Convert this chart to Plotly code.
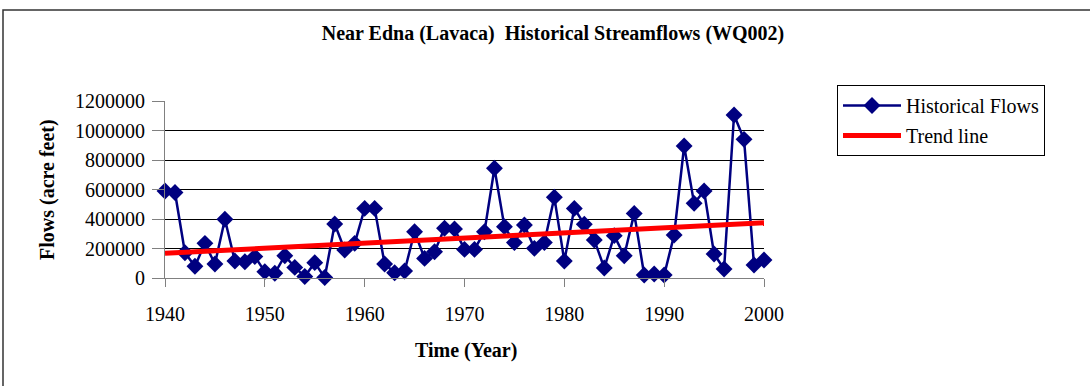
import plotly.graph_objects as go

years = list(range(1940, 2001))
flows = [590000, 580000, 171000, 80000, 235000, 95000, 398000, 115000, 110000, 145000,
         43000, 32000, 151000, 72000, 10000, 104000, 3000, 366000, 190000, 235000,
         472000, 472000, 95000, 36000, 47000, 314000, 133000, 178000, 337000, 333000,
         194000, 194000, 314000, 744000, 348000, 240000, 359000, 201000, 240000, 547000,
         115000, 472000, 364000, 258000, 68000, 287000, 151000, 438000, 20000, 27000,
         20000, 292000, 895000, 506000, 590000, 163000, 61000, 1105000, 940000, 88000,
         122000]
trend_years = [1940, 2000]
trend_values = [167000, 375000]
y_ticks = [0, 200000, 400000, 600000, 800000, 1000000, 1200000]
x_ticks = [1940, 1950, 1960, 1970, 1980, 1990, 2000]

FONT = "Liberation Serif, Times New Roman, serif"

fig = go.Figure()
fig.add_trace(go.Scatter(
    x=years, y=flows, mode="lines+markers", name="Historical Flows",
    legendgroup="a",
    line=dict(color="#000080", width=2.5),
    marker=dict(symbol="diamond", size=13, color="#000080"),
    cliponaxis=False,
))
fig.add_trace(go.Scatter(
    x=trend_years, y=trend_values, mode="lines", name="Trend line",
    legendgroup="b",
    line=dict(color="#ff0000", width=5),
    cliponaxis=False,
))

W, H = 1090, 386
L, R, T, B = 165, 764, 101, 278

def px_x(px):
    return (px - L) / (R - L)

def px_y(py):
    return (B - py) / (B - T)

fig.update_layout(
    width=W, height=H,
    margin=dict(l=L, r=W - R, t=T, b=H - B),
    paper_bgcolor="white", plot_bgcolor="white",
    font=dict(family=FONT, size=20, color="black"),
    title=dict(text="<b>Near Edna (Lavaca)  Historical Streamflows (WQ002)</b>",
               x=553 / W, xref="container", xanchor="center",
               y=1 - 33 / H, yref="container", yanchor="middle",
               font=dict(family=FONT, size=20, color="black")),
    showlegend=True,
    legend=dict(x=px_x(837), y=px_y(85), xanchor="left", yanchor="top",
                bordercolor="black", borderwidth=1, bgcolor="white",
                font=dict(family=FONT, size=20, color="black"),
                itemwidth=58, tracegroupgap=1),
    xaxis=dict(range=[1940, 2000], tickvals=x_ticks, showgrid=False,
               showline=True, linecolor="#808080", linewidth=1,
               ticks="outside", ticklen=8, tickcolor="#808080",
               ticklabelstandoff=10, zeroline=False,
               tickfont=dict(family=FONT, size=20, color="black")),
    yaxis=dict(range=[0, 1200000], tickvals=y_ticks, tickformat="d",
               showgrid=True, gridcolor="#000000", gridwidth=1,
               showline=True, linecolor="#808080", linewidth=1,
               ticks="outside", ticklen=12, tickcolor="#808080",
               ticklabelstandoff=3, zeroline=False,
               tickfont=dict(family=FONT, size=20, color="black")),
    annotations=[
        dict(text="<b>Flows (acre feet)</b>", textangle=-90,
             x=px_x(47), y=px_y(190), xref="paper", yref="paper",
             showarrow=False, xanchor="center", yanchor="middle",
             font=dict(family=FONT, size=20, color="black")),
        dict(text="<b>Time (Year)</b>",
             x=px_x(466), y=px_y(350), xref="paper", yref="paper",
             showarrow=False, xanchor="center", yanchor="middle",
             font=dict(family=FONT, size=20, color="black")),
    ],
    shapes=[
        dict(type="rect", xref="paper", yref="paper",
             x0=px_x(3), x1=px_x(1120), y0=px_y(420), y1=px_y(10),
             line=dict(color="#333333", width=1.5), layer="below"),
    ],
)

fig.write_html("out.html",
               config={"displayModeBar": False},
               post_script="document.body.style.margin='0';document.body.style.padding='0';")
